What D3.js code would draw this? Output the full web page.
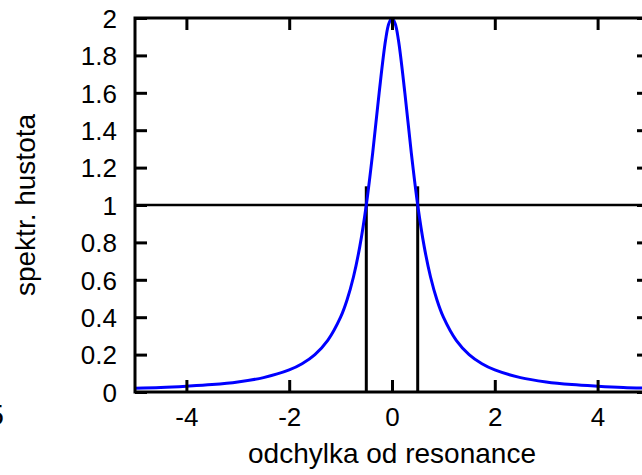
<!DOCTYPE html>
<html>
<head>
<meta charset="utf-8">
<script src="https://cdn.jsdelivr.net/npm/d3@7"></script>
<style>
  html, body { margin: 0; padding: 0; background: #fff; }
  svg { display: block; }
  text { font-family: "Liberation Sans", Arial, sans-serif; fill: #000; }
</style>
</head>
<body>
<svg id="chart" width="642" height="475"></svg>
<script>
// Spectral density of a resonance line (detuning vs. density)
const detuning = [-5, -4.5, -4, -3.5, -3, -2.5, -2, -1.75, -1.5, -1.25, -1, -0.875, -0.75, -0.625,
                  -0.5, -0.375, -0.25, -0.125, -0.0625, 0,
                  0.0625, 0.125, 0.25, 0.375, 0.5, 0.625, 0.75, 0.875, 1, 1.25, 1.5, 1.75, 2, 2.5, 3, 3.5, 4, 4.5, 5];
const density = [0.020, 0.024, 0.031, 0.040, 0.054, 0.077, 0.118, 0.151, 0.200, 0.276, 0.400, 0.492, 0.615, 0.780,
                 1.000, 1.280, 1.600, 1.882, 1.969, 2.000,
                 1.969, 1.882, 1.600, 1.280, 1.000, 0.780, 0.615, 0.492, 0.400, 0.276, 0.200, 0.151, 0.118, 0.077, 0.054, 0.040, 0.031, 0.024, 0.020];

// half-maximum level and the full-width markers
const halfLevel = 1;
const widthMarkersX = [-0.5, 0.5];
const markerTop = 1.1;

const xTickValues = [-4, -2, 0, 2, 4];
const xTickLabels = ["-4", "-2", "0", "2", "4"];
const yTickValues = [0, 0.2, 0.4, 0.6, 0.8, 1, 1.2, 1.4, 1.6, 1.8, 2];
const yTickLabels = ["0", "0.2", "0.4", "0.6", "0.8", "1", "1.2", "1.4", "1.6", "1.8", "2"];

const xLabel = "odchylka od resonance";
const yLabel = "spektr. hustota";

const svg = d3.select("#chart");
const plotLeft = 135, plotRight = 649, plotTop = 18, plotBottom = 392;
const tickFont = 26;
const titleFont = 28;

const x = d3.scaleLinear().domain([-5, 5]).range([plotLeft, plotRight]);
const y = d3.scaleLinear().domain([0, 2]).range([plotBottom, plotTop]);

svg.append("rect").attr("width", 642).attr("height", 475).attr("fill", "#fff");

// stray label from a neighbouring panel
svg.append("text").attr("x", 4).attr("y", 425).attr("text-anchor", "end")
  .attr("font-size", 30).text("5");

const clip = svg.append("defs").append("clipPath").attr("id", "plot");
clip.append("rect").attr("x", plotLeft).attr("y", plotTop)
  .attr("width", plotRight - plotLeft).attr("height", plotBottom - plotTop);

const plot = svg.append("g").attr("clip-path", "url(#plot)");

// half-maximum line
plot.append("line")
  .attr("x1", x(-5)).attr("x2", x(5))
  .attr("y1", y(halfLevel)).attr("y2", y(halfLevel))
  .attr("stroke", "#000").attr("stroke-width", 2.5);

// width markers
plot.selectAll("line.marker").data(widthMarkersX).join("line")
  .attr("class", "marker")
  .attr("x1", d => x(d)).attr("x2", d => x(d))
  .attr("y1", y(0)).attr("y2", y(markerTop))
  .attr("stroke", "#000").attr("stroke-width", 3);

// the spectral line itself
const pts = detuning.map((d, i) => [d, density[i]]);
plot.append("path")
  .datum(pts)
  .attr("fill", "none")
  .attr("stroke", "#0000ff")
  .attr("stroke-width", 3)
  .attr("d", d3.line().x(d => x(d[0])).y(d => y(d[1])).curve(d3.curveCatmullRom.alpha(0.5)));

// axes with inward ticks, mirrored on the opposite sides
const tickLen = 12;
const axisStyle = g => {
  g.select(".domain").remove();
  g.selectAll(".tick line").attr("stroke", "#000").attr("stroke-width", 3);
  g.selectAll(".tick text").attr("font-size", tickFont).attr("font-family", "'Liberation Sans', Arial, sans-serif");
};

svg.append("g").attr("transform", `translate(0,${plotBottom})`)
  .call(d3.axisBottom(x).tickValues(xTickValues).tickFormat((d, i) => xTickLabels[i]).tickSizeInner(-tickLen).tickSizeOuter(0))
  .call(axisStyle)
  .call(g => g.selectAll(".tick text").attr("dy", 0).attr("y", 34));

svg.append("g").attr("transform", `translate(0,${plotTop})`)
  .call(d3.axisTop(x).tickValues(xTickValues).tickFormat("").tickSizeInner(-tickLen).tickSizeOuter(0))
  .call(axisStyle);

svg.append("g").attr("transform", `translate(${plotLeft},0)`)
  .call(d3.axisLeft(y).tickValues(yTickValues).tickFormat((d, i) => yTickLabels[i]).tickSizeInner(-tickLen).tickSizeOuter(0))
  .call(axisStyle)
  .call(g => g.selectAll(".tick text").attr("x", -18).attr("dy", "0.36em"));

svg.append("g").attr("transform", `translate(${plotRight},0)`)
  .call(d3.axisRight(y).tickValues(yTickValues).tickFormat("").tickSizeInner(-tickLen).tickSizeOuter(0))
  .call(axisStyle);

// frame
svg.append("rect")
  .attr("x", plotLeft).attr("y", plotTop)
  .attr("width", plotRight - plotLeft).attr("height", plotBottom - plotTop)
  .attr("fill", "none").attr("stroke", "#000").attr("stroke-width", 3);

// axis titles
svg.append("text")
  .attr("x", (plotLeft + plotRight) / 2).attr("y", 463)
  .attr("text-anchor", "middle").attr("font-size", titleFont)
  .text(xLabel);

svg.append("text")
  .attr("transform", `translate(35,${(plotTop + plotBottom) / 2}) rotate(-90)`)
  .attr("text-anchor", "middle").attr("font-size", titleFont)
  .text(yLabel);
</script>
</body>
</html>
